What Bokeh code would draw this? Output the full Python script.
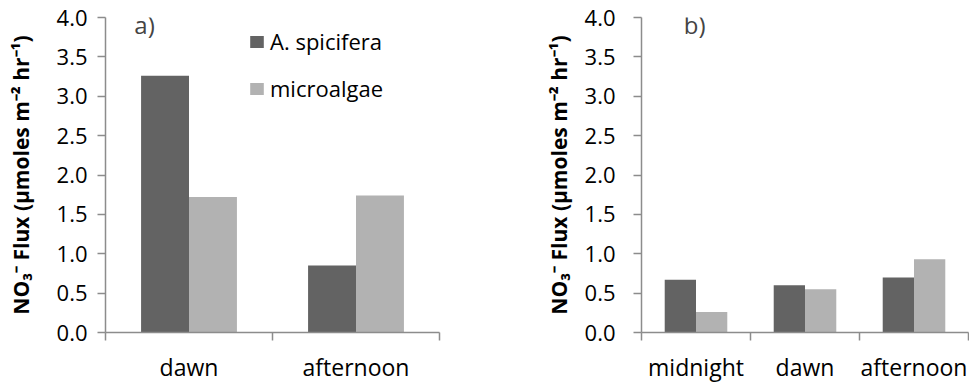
from bokeh.plotting import figure
from bokeh.layouts import row
from bokeh.models import Range1d, FixedTicker, Legend, LegendItem, Label, NumeralTickFormatter
from bokeh.embed import file_html
from bokeh.resources import INLINE

# ---- data ----
cats_a = ["dawn", "afternoon"]
asp_a = [3.26, 0.85]
micro_a = [1.72, 1.74]

cats_b = ["midnight", "dawn", "afternoon"]
asp_b = [0.67, 0.60, 0.70]
micro_b = [0.26, 0.55, 0.93]

series_names = ["A. spicifera", "microalgae"]
y_ticks = [0.0, 0.5, 1.0, 1.5, 2.0, 2.5, 3.0, 3.5, 4.0]
panel_labels = ["a)", "b)"]

# ---- style ----
DARK = "#636363"
LIGHT = "#b2b2b2"
AXIS = "#8c8c8c"
FONT = "Open Sans"
YLABEL = "NO\u2083\u207b Flux (\u00b5moles m\u207b\u00b2 hr\u207b\u00b9)"
BAR_W = 0.287


def make_fig(cats, asp, micro, width, left, right, top, bottom, tick_standoff,
             label_standoff, panel, panel_x):
    n = len(cats)
    p = figure(width=width, height=388, output_backend="svg", toolbar_location=None,
               x_range=Range1d(0, n), y_range=Range1d(0, 4),
               min_border_left=left, min_border_right=right,
               min_border_top=top, min_border_bottom=bottom)
    p.outline_line_color = None
    p.xgrid.visible = False
    p.ygrid.visible = False
    p.background_fill_color = "white"
    p.border_fill_color = "white"

    xs_dark = [i + 0.5 - BAR_W / 2 for i in range(n)]
    xs_light = [i + 0.5 + BAR_W / 2 for i in range(n)]
    r1 = p.vbar(x=xs_dark, top=asp, width=BAR_W, bottom=0,
                fill_color=DARK, line_color=None)
    r2 = p.vbar(x=xs_light, top=micro, width=BAR_W, bottom=0,
                fill_color=LIGHT, line_color=None)

    # x axis
    xa = p.xaxis[0]
    xa.ticker = FixedTicker(ticks=[i + 0.5 for i in range(n)],
                            minor_ticks=list(range(n + 1)))
    xa.major_label_overrides = {i + 0.5: c for i, c in enumerate(cats)}
    xa.major_tick_line_color = None
    xa.minor_tick_line_color = AXIS
    xa.minor_tick_line_width = 1.5
    xa.minor_tick_out = 8
    xa.minor_tick_in = 0
    xa.axis_line_color = AXIS
    xa.axis_line_width = 1.5
    xa.major_label_text_font = FONT
    xa.major_label_text_font_size = "23px"
    xa.major_label_text_color = "black"
    xa.major_label_standoff = 10

    # y axis
    ya = p.yaxis[0]
    ya.ticker = FixedTicker(ticks=y_ticks, minor_ticks=[])
    ya.formatter = NumeralTickFormatter(format="0.0")
    ya.axis_line_color = AXIS
    ya.axis_line_width = 1.5
    ya.major_tick_line_color = AXIS
    ya.major_tick_line_width = 1.5
    ya.major_tick_out = 8
    ya.major_tick_in = 0
    ya.minor_tick_line_color = None
    ya.major_label_text_font = FONT
    ya.major_label_text_font_size = "22px"
    ya.major_label_text_color = "black"
    ya.major_label_standoff = tick_standoff
    ya.axis_label = YLABEL
    ya.axis_label_text_font = FONT
    ya.axis_label_text_font_style = "bold"
    ya.axis_label_text_font_size = "21px"
    ya.axis_label_text_color = "black"
    ya.axis_label_standoff = label_standoff

    p.add_layout(Label(x=panel_x, y=4.0, text=panel, text_font=FONT,
                       text_font_size="24px", text_align="center",
                       text_baseline="top", y_offset=10))
    return p, r1, r2


pa, ra1, ra2 = make_fig(cats_a, asp_a, micro_a, 480, 105, 41, 17, 56, 10, 19, panel_labels[0], 0.234)
pb, rb1, rb2 = make_fig(cats_b, asp_b, micro_b, 489, 161, 1, 17, 54, 18, 9, panel_labels[1], 0.488)

legend = Legend(items=[LegendItem(label=series_names[0], renderers=[ra1]),
                       LegendItem(label=series_names[1], renderers=[ra2])],
                location=(143, 229), padding=0, margin=0, spacing=17,
                glyph_width=17, glyph_height=15, label_height=15,
                label_standoff=5, label_text_font=FONT,
                label_text_font_size="22px", label_text_color="black",
                border_line_color=None, background_fill_alpha=0)
pa.add_layout(legend)

layout = row(pa, pb)
open("out.html", "w").write(file_html(layout, INLINE))
